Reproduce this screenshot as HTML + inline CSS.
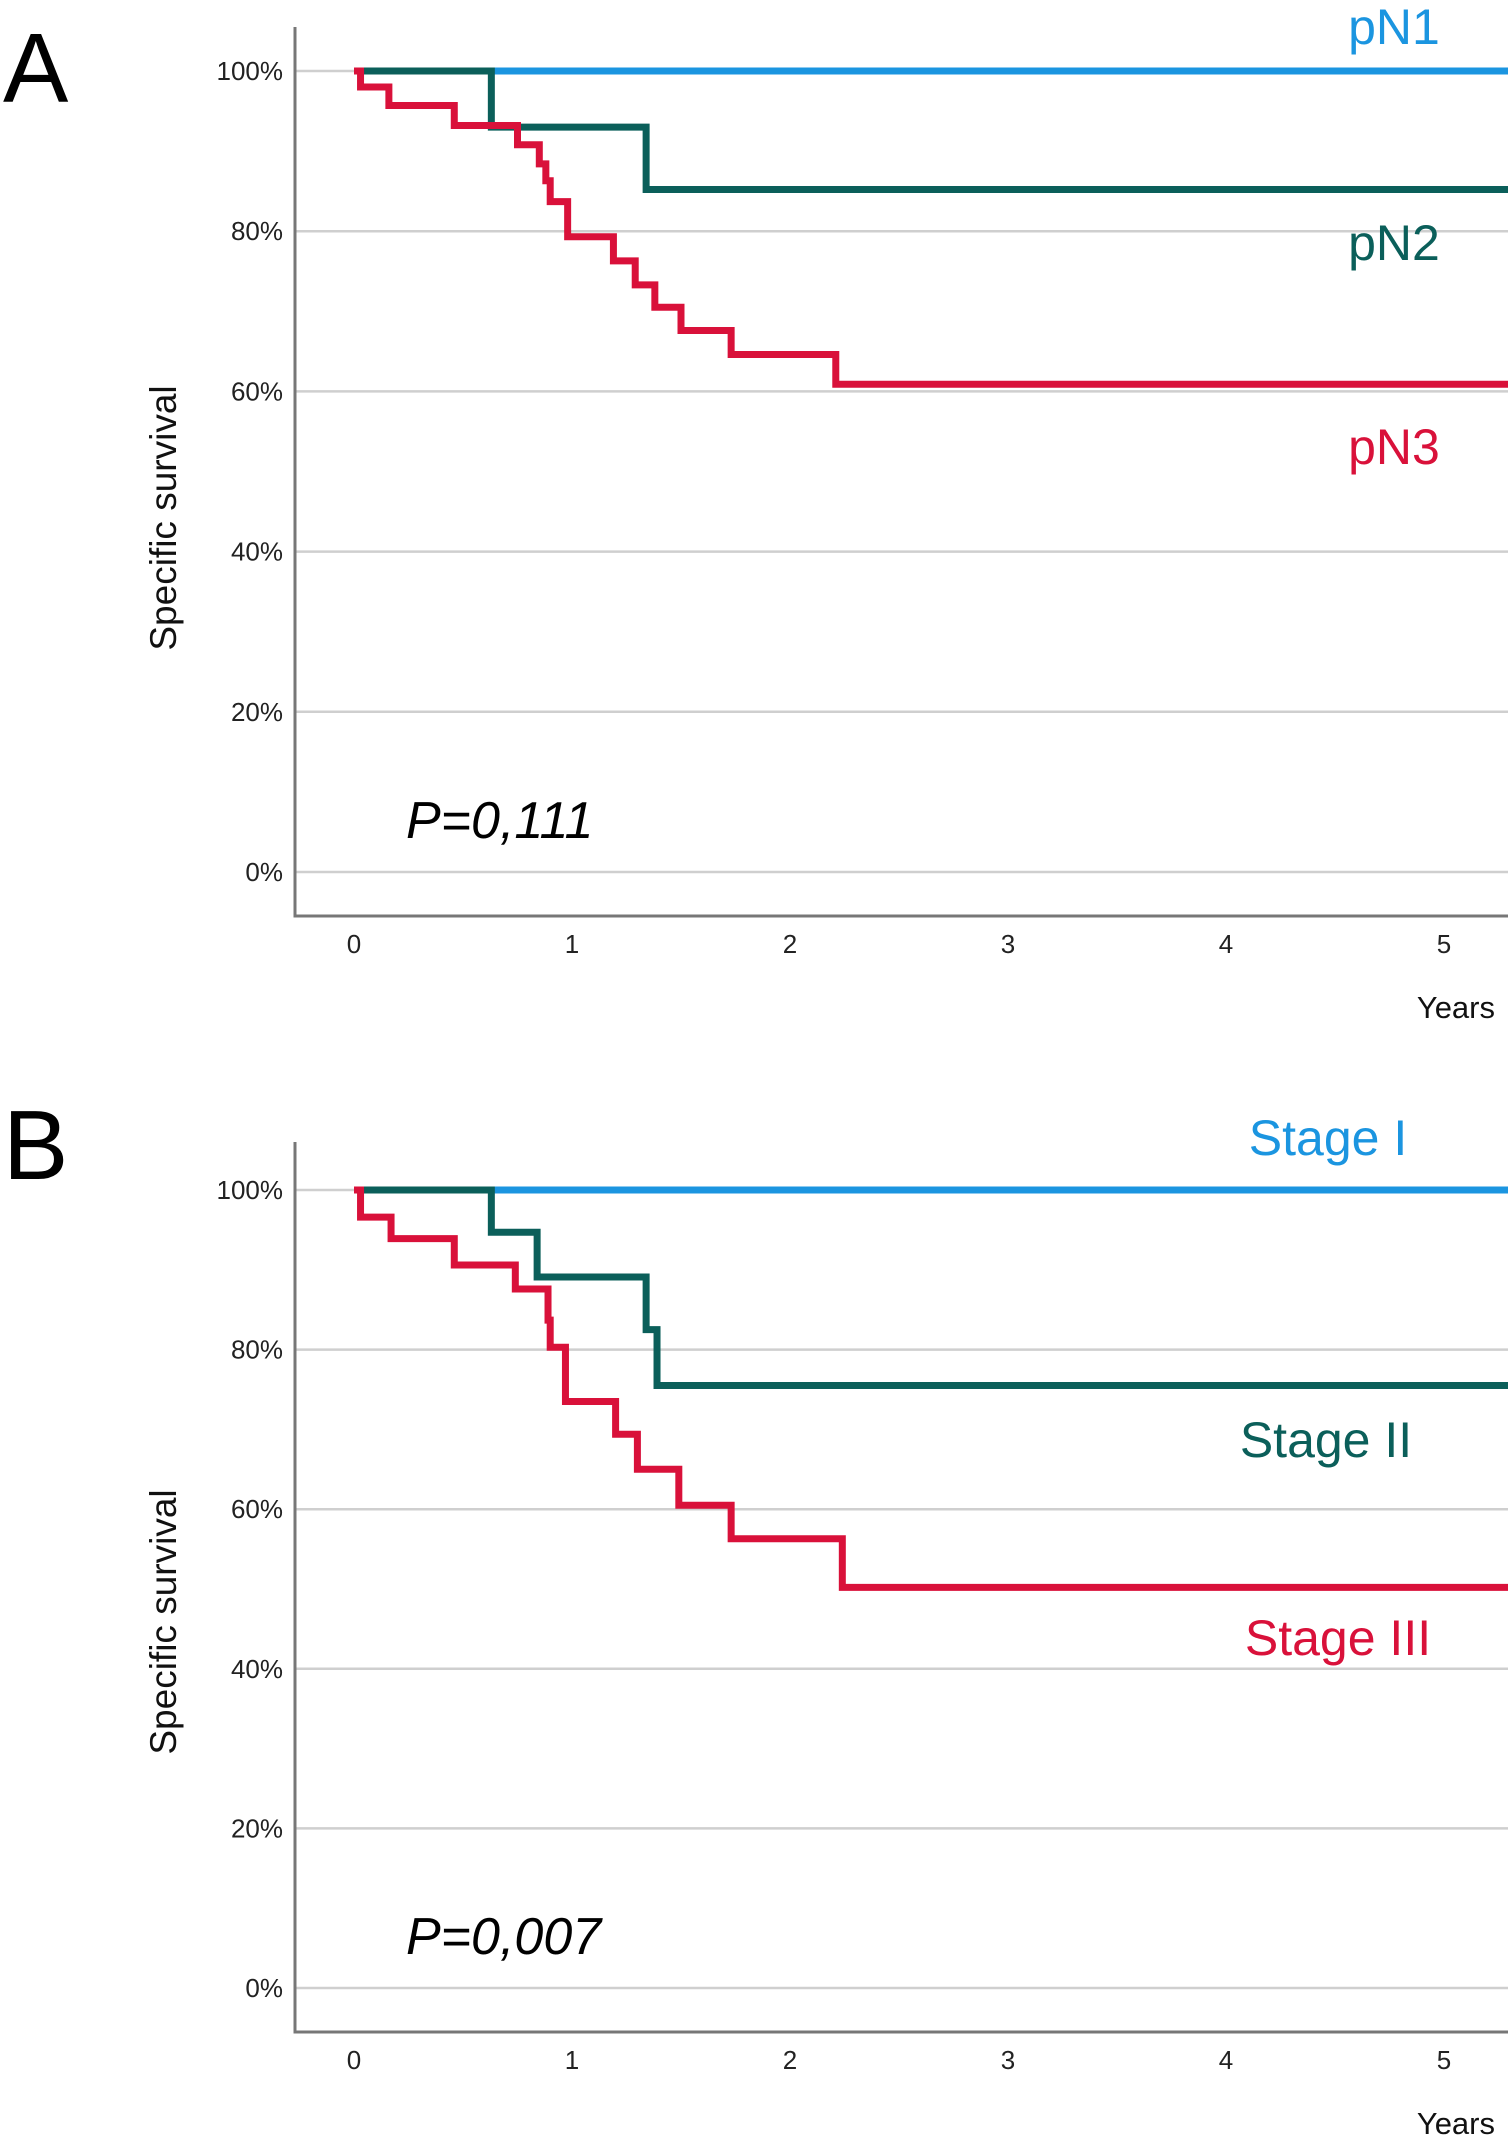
<!DOCTYPE html>
<html><head><meta charset="utf-8"><style>
html,body{margin:0;padding:0;background:#fff;}
svg{display:block;font-family:"Liberation Sans",sans-serif;}
</style></head><body>
<svg id="chart" width="1508" height="2137" viewBox="0 0 1508 2137" xmlns="http://www.w3.org/2000/svg"></svg>
<script>
const yTicks=[0,20,40,60,80,100];
const xTicks=[0,1,2,3,4,5];
const aNames=["pN1","pN2","pN3"];
const aTimes1=[0];
const aVals1=[100];
const aTimes2=[0,0.63,1.34];
const aVals2=[100,93.0,85.2];
const aTimes3=[0,0.03,0.16,0.46,0.75,0.85,0.88,0.9,0.98,1.19,1.29,1.38,1.5,1.73,2.21];
const aVals3=[100,98.0,95.7,93.2,90.8,88.4,86.3,83.7,79.3,76.3,73.3,70.5,67.6,64.6,60.9];
const bNames=["Stage I","Stage II","Stage III"];
const bTimes1=[0];
const bVals1=[100];
const bTimes2=[0,0.63,0.84,1.34,1.39];
const bVals2=[100,94.7,89.1,82.5,75.5];
const bTimes3=[0,0.03,0.17,0.46,0.74,0.89,0.9,0.97,1.2,1.3,1.49,1.73,2.24];
const bVals3=[100,96.6,93.9,90.6,87.6,83.7,80.3,73.5,69.4,65.0,60.5,56.3,50.2];
const pA="P=0,111", pB="P=0,007";
const colors=["#1b95e0","#0b5f5a","#d9113a"];
const NS="http://www.w3.org/2000/svg";
const svg=document.getElementById('chart');
function mk(tag,attrs,parent,text){const e=document.createElementNS(NS,tag);for(const k in attrs)e.setAttribute(k,attrs[k]);if(text!==undefined)e.textContent=text;(parent||svg).appendChild(e);return e;}
function panel(cfg){
  const g=mk('g',{});
  
  
  const x=t=>354+t*218;
  const y=v=>cfg.y0+(cfg.y100-cfg.y0)*v/100;
  const letter=mk('text',{x:3,y:cfg.letterY,'font-size':98,fill:'#000'},g,cfg.letter);
  
  
  yTicks.forEach(v=>{
    const l=mk('line',{x1:295,x2:1508,y1:y(v),y2:y(v),stroke:'#cfcfcf','stroke-width':2.5},g);
    
    
    const t=mk('text',{x:283,y:y(v)+9,'font-size':26,'text-anchor':'end',fill:'#222'},g,v+'%');
    
    
  });
  const ax=mk('path',{d:`M295 ${cfg.top} V${cfg.bottom} H1508`,stroke:'#777','stroke-width':3,fill:'none'},g);
  
  
  xTicks.forEach(v=>{
    const t=mk('text',{x:x(v),y:cfg.bottom+37,'font-size':26,'text-anchor':'middle',fill:'#222'},g,String(v));
    
    
  });
  const xt=mk('text',{x:1495,y:cfg.bottom+102,'font-size':31,'text-anchor':'end',fill:'#111'},g,'Years');
  
  
  const yt=mk('text',{x:0,y:0,'font-size':37,'text-anchor':'middle',fill:'#111',transform:`translate(176,${cfg.titleY}) rotate(-90)`},g,'Specific survival');
  
  
  const pt=mk('text',{x:406,y:cfg.pY,'font-size':52,'font-style':'italic',fill:'#000'},g,cfg.p);
  
  
  cfg.series.forEach((s,i)=>{
    let d=`M${x(s.t[0])} ${y(s.v[0])}`;
    for(let k=1;k<s.t.length;k++){d+=` H${x(s.t[k])} V${y(s.v[k])}`;}
    d+=` H1508`;
    const p=mk('path',{d:d,stroke:colors[i],'stroke-width':7,fill:'none'},g);
    
    
    const lb=mk('text',{x:cfg.labels[i][0],y:cfg.labels[i][1],'font-size':50,'text-anchor':'middle',fill:colors[i]},g,s.n);
    
    
  });
}
panel({name:'panel-a',letter:'A',letterY:102,y0:872,y100:71,top:27,bottom:916,titleY:518,pY:838,p:pA,
  series:[{n:aNames[0],t:aTimes1,v:aVals1},{n:aNames[1],t:aTimes2,v:aVals2},{n:aNames[2],t:aTimes3,v:aVals3}],
  labels:[[1394,44],[1394,260],[1394,464]]});
panel({name:'panel-b',letter:'B',letterY:1179,y0:1988,y100:1190,top:1142,bottom:2032,titleY:1622,pY:1954,p:pB,
  series:[{n:bNames[0],t:bTimes1,v:bVals1},{n:bNames[1],t:bTimes2,v:bVals2},{n:bNames[2],t:bTimes3,v:bVals3}],
  labels:[[1328,1155],[1326,1457],[1338,1655]]});
</script>
</body></html>
